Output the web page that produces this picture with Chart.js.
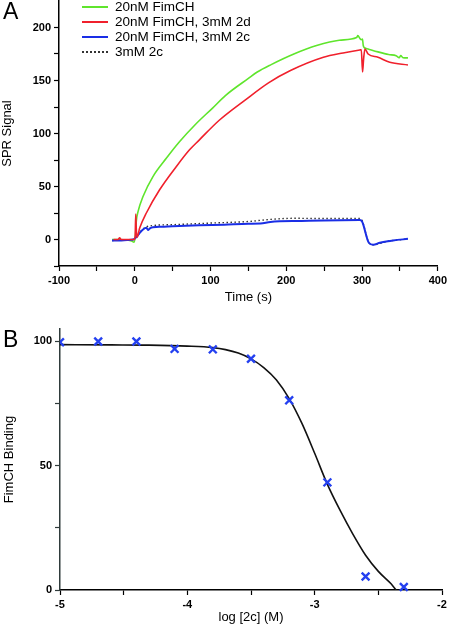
<!DOCTYPE html>
<html>
<head>
<meta charset="utf-8">
<script src="https://cdn.jsdelivr.net/npm/chart.js"></script>
<style>
  html, body { margin: 0; padding: 0; background: #fff; }
  #page { position: relative; width: 450px; height: 627px; overflow: hidden; font-family: "Liberation Sans", Arial, sans-serif; }
  #page canvas { position: absolute; left: 0; }
  .panel-label { position: absolute; left: 3px; font-size: 23px; line-height: 23px; color: #000; }
  .legend-line { position: absolute; left: 82px; width: 26px; height: 0; }
  .legend-text { position: absolute; left: 115px; font-size: 13.5px; line-height: 15px; color: #000; white-space: nowrap; }
</style>
</head>
<body>
<div id="page">
  <canvas id="chart_a" width="450" height="310" style="top:0px"></canvas>
  <canvas id="chart_b" width="450" height="309" style="top:318px"></canvas>
  <div class="panel-label" style="top:0px">A</div>
  <div class="panel-label" style="top:328px">B</div>
  <div id="legend_a"></div>
</div>
<script>
//--------------------------------------
// panel A: SPR sensorgrams (time in s vs. signal)
//--------------------------------------
const series_names  = ["20nM FimCH", "20nM FimCH, 3mM 2d", "20nM FimCH, 3mM 2c", "3mM 2c"];
const series_colors = ["#5fe52c", "#f0202c", "#1a2ee6", "#333333"];

const green_t = [-30, -20, -10, -4, -1, 1, 2, 4.4, 10.9, 24, 41.6, 59, 80, 102.7, 120, 150, 161.7, 180, 210, 240, 270, 292.8, 294.5, 297, 299, 300.5, 301.6, 303, 308, 321, 335, 345, 349, 351, 354, 360.6];
const green_v = [0, 0, -0.5, -1.5, -2.5, 5, 17, 26.5, 40.6, 59.4, 76.6, 92.2, 108.5, 124, 136, 152, 158, 165, 175, 183, 188, 190.5, 192.3, 189.8, 188.5, 189, 183, 181, 179.7, 177, 174.5, 173.4, 171.5, 173.5, 171.5, 171.3];

const red_t = [-28, -22, -20, -18, -10, -1, 0.5, 1.3, 2, 3, 6.6, 15.3, 32.8, 54.7, 72, 85, 111.5, 146.5, 177, 205.5, 249, 275, 297, 299, 300.7, 302, 303.8, 308, 321, 336.6, 360.6];
const red_v = [0, 0, 1.5, 0, 0, 0, 3, 24, 10, 2, 11, 25, 46.9, 68.7, 84.4, 93.8, 112.5, 132, 148, 159.4, 171.9, 176, 178.8, 179, 158, 170, 179.7, 175, 171.9, 167.2, 164.7];

const blue_t = [-30, -20, -10, -2, 3, 6.6, 10.9, 15.3, 17.5, 20, 24, 35, 50, 85, 118, 150, 166, 179, 220, 249, 297, 300, 309, 314.7, 323.5, 334, 341, 360.6];
const blue_v = [-1, -1, -0.5, 0, 3, 6.3, 9.4, 11, 9, 10.5, 11.6, 12, 12.5, 13.4, 14, 14.8, 15, 16.6, 17.5, 18, 18.3, 17, -3.1, -5, -3.1, -1.6, -0.9, 0.6];

const dotted_t = [-30, -10, -2, 3, 10.9, 20, 50, 100, 150, 180, 210, 250, 297, 300, 309, 314.7, 334, 360.6];
const dotted_v = [-1, -0.5, 0, 3, 10, 12.8, 14, 15.5, 17, 19, 20, 19.8, 19.8, 18, -3, -5, -1.6, 0.5];

const ticks_a_x_major = [-100, 0, 100, 200, 300, 400];
const ticks_a_x_minor = [-50, 50, 150, 250, 350];
const ticks_a_y_major = [0, 50, 100, 150, 200];
const ticks_a_y_minor = [-25, 25, 75, 125, 175];

//--------------------------------------
// panel B: inhibition of FimCH binding by 2c
//--------------------------------------
const conc_log = [-5, -4.7, -4.4, -4.1, -3.8, -3.5, -3.2, -2.9, -2.6, -2.3];
const binding  = [99.7, 100, 100, 97, 96.8, 93, 76.3, 43.3, 5.4, 1.2];

const fit_log     = [-5, -4.6, -4.3, -4.0, -3.8, -3.7, -3.6, -3.5, -3.4, -3.3, -3.2, -3.1, -3.0, -2.9, -2.8, -2.7, -2.6, -2.5, -2.4, -2.36];
const fit_binding = [98.7, 98.6, 98.5, 98.1, 97.5, 96.7, 95.3, 93, 89.5, 84.5, 77, 67, 55, 42.5, 32, 22.5, 14, 7.5, 2.5, 0];

const ticks_b_x_major = [-5, -4, -3, -2];
const ticks_b_x_minor = [-4.5, -3.5, -2.5];
const ticks_b_y_major = [0, 50, 100];
const ticks_b_y_minor = [25, 75];

//--------------------------------------
const font_family = "'Liberation Sans', Arial, sans-serif";
const tick_font   = {family: font_family, size: 11, weight: "bold"};
const title_font  = {family: font_family, size: 13, weight: "normal"};

function to_points(xs, ys) {
    return xs.map((x, i) => ({x: x, y: ys[i]}));
}

/* build one axis with outer ticks, labels only on major ticks */
function make_axis(major, minor, min, max, size, title, title_pad, border_color) {
    const all_ticks = major.concat(minor).sort((a, b) => a - b);
    return {
        type: "linear", min: min, max: max,
        afterBuildTicks: (scale) => { scale.ticks = all_ticks.map(v => ({value: v})); },
        afterFit: (scale) => {
            if (scale.isHorizontal()) { scale.height = size; }
            else                      { scale.width = size; }
            scale.paddingTop = 0; scale.paddingBottom = 0;
        },
        ticks: {
            autoSkip: false, maxRotation: 0, padding: 3, color: "#000", font: tick_font,
            callback: (v) => major.includes(v) ? String(v) : ""
        },
        grid: { drawOnChartArea: false, drawTicks: true, tickLength: 5, tickColor: border_color, tickWidth: 1.2 },
        border: { display: true, color: border_color, width: 1.5 },
        title: { display: true, text: title, color: "#000", font: title_font, padding: title_pad }
    };
}

// legend of panel A (html, inside the plot area)
let legend_html = "";
for (let i = 0; i < series_names.length; i++) {
    const top  = -1 + i * 15;
    const line = (i === 3) ? "2px dotted " + series_colors[i] : "2px solid " + series_colors[i];
    legend_html += `<div class='legend-line' style='top:${top + 7}px;border-top:${line}'></div>`;
    legend_html += `<div class='legend-text' style='top:${top}px'>${series_names[i]}</div>`;
}
document.getElementById("legend_a").innerHTML = legend_html;

const line_set = (label, xs, ys, color, width, order, dash) => ({
    label: label, data: to_points(xs, ys), borderColor: color, backgroundColor: color,
    borderWidth: width, borderDash: dash || [], pointRadius: 0, fill: false,
    cubicInterpolationMode: "monotone", order: order
});

new Chart(document.getElementById("chart_a"), {
    type: "line",
    data: {
        datasets: [
            line_set(series_names[0], green_t, green_v, series_colors[0], 1.6, 2),
            line_set(series_names[1], red_t, red_v, series_colors[1], 1.6, 0),
            line_set(series_names[2], blue_t, blue_v, series_colors[2], 2, 1),
            line_set(series_names[3], dotted_t, dotted_v, series_colors[3], 1.4, 3, [1.5, 2.5])
        ]
    },
    options: {
        responsive: false, animation: false,
        layout: { padding: { left: 0, right: 10, top: 1, bottom: 0 } },
        plugins: { legend: { display: false }, tooltip: { enabled: false } },
        scales: {
            x: make_axis(ticks_a_x_major, ticks_a_x_minor, -100, 400, 44, "Time (s)", {top: 0, bottom: 4.5}, "#000"),
            y: make_axis(ticks_a_y_major, ticks_a_y_minor, -25, 225, 59, "SPR Signal", {top: 0, bottom: 0}, "#000")
        }
    }
});

new Chart(document.getElementById("chart_b"), {
    type: "line",
    data: {
        datasets: [
            {
                label: "data", data: to_points(conc_log, binding), showLine: false,
                pointStyle: "crossRot", pointRadius: 5.5, pointBorderWidth: 2.4,
                pointBorderColor: "#2440f0", pointBackgroundColor: "#2440f0",
                clip: {left: 0, top: 10, right: 10, bottom: 10}, order: 0
            },
            {
                label: "fit", data: to_points(fit_log, fit_binding), borderColor: "#111",
                borderWidth: 1.6, pointRadius: 0, fill: false,
                cubicInterpolationMode: "monotone", order: 1
            }
        ]
    },
    options: {
        responsive: false, animation: false,
        layout: { padding: { left: 0, right: 8, top: 11, bottom: 0 } },
        plugins: { legend: { display: false }, tooltip: { enabled: false } },
        scales: {
            x: make_axis(ticks_b_x_major, ticks_b_x_minor, -5, -2, 37, "log [2c] (M)", {top: 0, bottom: 1.5}, "#000"),
            y: make_axis(ticks_b_y_major, ticks_b_y_minor, 0, 105, 60, "FimCH Binding", {top: 1.5, bottom: 0}, "#2f3b3b")
        }
    }
});
</script>
</body>
</html>
